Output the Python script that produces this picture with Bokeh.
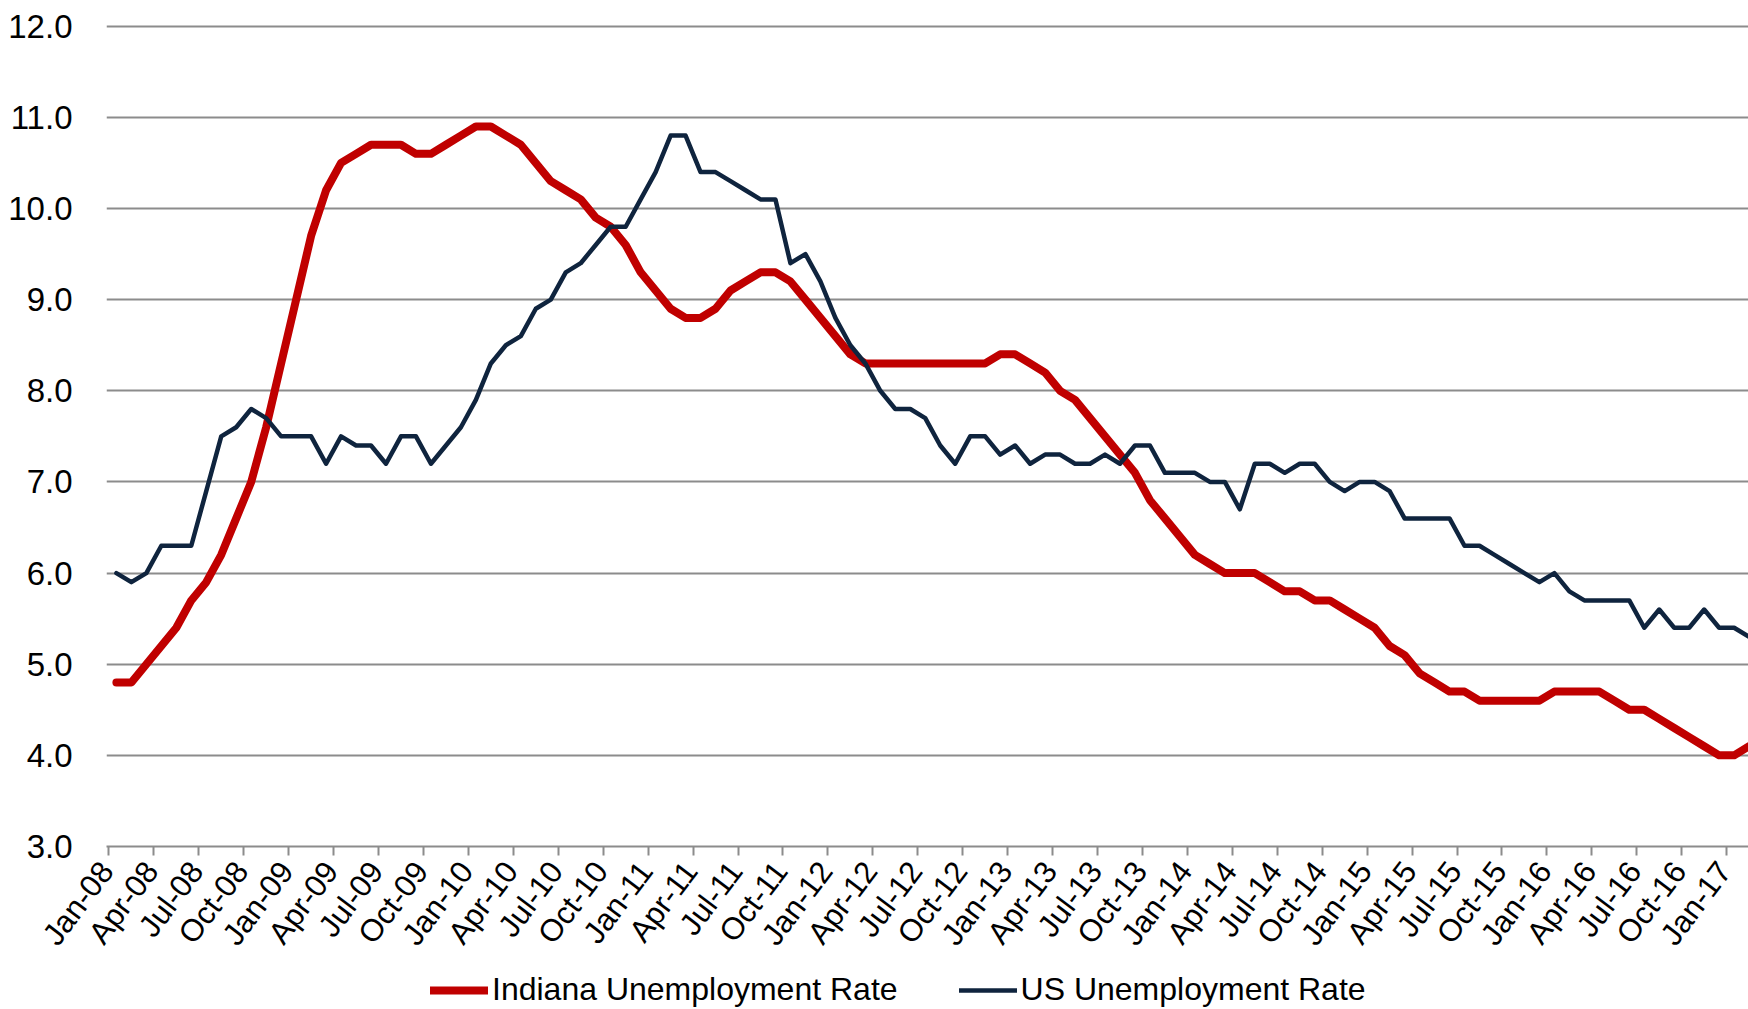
import math
from bokeh.plotting import figure
from bokeh.layouts import column
from bokeh.models import Range1d, FixedTicker, PrintfTickFormatter, Legend, LegendItem
from bokeh.embed import file_html
from bokeh.resources import INLINE

tick_labels = [
    "Jan-08", "Apr-08", "Jul-08", "Oct-08", "Jan-09", "Apr-09", "Jul-09", "Oct-09",
    "Jan-10", "Apr-10", "Jul-10", "Oct-10", "Jan-11", "Apr-11", "Jul-11", "Oct-11",
    "Jan-12", "Apr-12", "Jul-12", "Oct-12", "Jan-13", "Apr-13", "Jul-13", "Oct-13",
    "Jan-14", "Apr-14", "Jul-14", "Oct-14", "Jan-15", "Apr-15", "Jul-15", "Oct-15",
    "Jan-16", "Apr-16", "Jul-16", "Oct-16", "Jan-17",
]

# monthly values, Jan-08 .. Feb-17
indiana = [
    4.8, 4.8, 5.0, 5.2, 5.4, 5.7, 5.9, 6.2, 6.6, 7.0,
    7.6, 8.3, 9.0, 9.7, 10.2, 10.5, 10.6, 10.7, 10.7, 10.7,
    10.6, 10.6, 10.7, 10.8, 10.9, 10.9, 10.8, 10.7, 10.5, 10.3,
    10.2, 10.1, 9.9, 9.8, 9.6, 9.3, 9.1, 8.9, 8.8, 8.8,
    8.9, 9.1, 9.2, 9.3, 9.3, 9.2, 9.0, 8.8, 8.6, 8.4,
    8.3, 8.3, 8.3, 8.3, 8.3, 8.3, 8.3, 8.3, 8.3, 8.4,
    8.4, 8.3, 8.2, 8.0, 7.9, 7.7, 7.5, 7.3, 7.1, 6.8,
    6.6, 6.4, 6.2, 6.1, 6.0, 6.0, 6.0, 5.9, 5.8, 5.8,
    5.7, 5.7, 5.6, 5.5, 5.4, 5.2, 5.1, 4.9, 4.8, 4.7,
    4.7, 4.6, 4.6, 4.6, 4.6, 4.6, 4.7, 4.7, 4.7, 4.7,
    4.6, 4.5, 4.5, 4.4, 4.3, 4.2, 4.1, 4.0, 4.0, 4.1,
]

us = [
    6.0, 5.9, 6.0, 6.3, 6.3, 6.3, 6.9, 7.5, 7.6, 7.8,
    7.7, 7.5, 7.5, 7.5, 7.2, 7.5, 7.4, 7.4, 7.2, 7.5,
    7.5, 7.2, 7.4, 7.6, 7.9, 8.3, 8.5, 8.6, 8.9, 9.0,
    9.3, 9.4, 9.6, 9.8, 9.8, 10.1, 10.4, 10.8, 10.8, 10.4,
    10.4, 10.3, 10.2, 10.1, 10.1, 9.4, 9.5, 9.2, 8.8, 8.5,
    8.3, 8.0, 7.8, 7.8, 7.7, 7.4, 7.2, 7.5, 7.5, 7.3,
    7.4, 7.2, 7.3, 7.3, 7.2, 7.2, 7.3, 7.2, 7.4, 7.4,
    7.1, 7.1, 7.1, 7.0, 7.0, 6.7, 7.2, 7.2, 7.1, 7.2,
    7.2, 7.0, 6.9, 7.0, 7.0, 6.9, 6.6, 6.6, 6.6, 6.6,
    6.3, 6.3, 6.2, 6.1, 6.0, 5.9, 6.0, 5.8, 5.7, 5.7,
    5.7, 5.7, 5.4, 5.6, 5.4, 5.4, 5.6, 5.4, 5.4, 5.3,
]

series_names = ["Indiana Unemployment Rate", "US Unemployment Rate"]
series_colors = ["#C00000", "#0F243E"]
y_ticks = [3, 4, 5, 6, 7, 8, 9, 10, 11, 12]

months = list(range(len(indiana)))
tick_bounds = [3 * i - 0.5 for i in range(len(tick_labels))]
label_pos = [3 * i - 0.65 for i in range(len(tick_labels))]

FONT = "Liberation Sans"
GRID = "#8c8c8c"

p = figure(width=1748, height=965, output_backend="svg", toolbar_location=None,
           x_range=Range1d(-0.66, 108.96), y_range=Range1d(3, 12.03),
           min_border_left=106, min_border_right=0, min_border_top=23,
           min_border_bottom=115)
p.outline_line_color = None
p.background_fill_color = "white"
p.border_fill_color = "white"

# y axis
p.yaxis.ticker = FixedTicker(ticks=y_ticks)
p.yaxis.formatter = PrintfTickFormatter(format="%.1f")
p.yaxis.axis_line_color = None
p.yaxis.major_tick_line_color = None
p.yaxis.minor_tick_line_color = None
p.yaxis.major_tick_out = 0
p.yaxis.major_tick_in = 0
p.yaxis.major_label_standoff = 34
p.yaxis.major_label_text_font = FONT
p.yaxis.major_label_text_font_size = "33px"
p.yaxis.major_label_text_color = "black"

p.ygrid.ticker = FixedTicker(ticks=y_ticks[1:])
p.ygrid.grid_line_color = GRID
p.ygrid.grid_line_width = 2
p.xgrid.visible = False

# x axis: tick marks at category boundaries, labels near category centres
p.xaxis.ticker = FixedTicker(ticks=label_pos, minor_ticks=tick_bounds)
p.xaxis.major_label_overrides = {t: lab for t, lab in zip(label_pos, tick_labels)}
p.xaxis.major_tick_line_color = None
p.xaxis.major_tick_out = 0
p.xaxis.major_tick_in = 0
p.xaxis.minor_tick_line_color = GRID
p.xaxis.minor_tick_line_width = 2
p.xaxis.minor_tick_out = 9
p.xaxis.minor_tick_in = 0
p.xaxis.axis_line_color = GRID
p.xaxis.axis_line_width = 2
p.xaxis.major_label_orientation = 0.925
p.xaxis.major_label_standoff = 10
p.xaxis.major_label_text_font = FONT
p.xaxis.major_label_text_font_size = "31px"
p.xaxis.major_label_text_color = "black"

r1 = p.line(months, indiana, line_color=series_colors[0], line_width=8,
            line_join="round", line_cap="round")
r2 = p.line(months, us, line_color=series_colors[1], line_width=4.5,
            line_join="round", line_cap="round")

# legend strip below the chart (its renderers sit outside the visible range)
q = figure(width=1748, height=44, output_backend="svg", toolbar_location=None,
           x_axis_type=None, y_axis_type=None,
           x_range=Range1d(0, 1), y_range=Range1d(0, 1),
           min_border_left=0, min_border_right=0, min_border_top=0, min_border_bottom=0)
q.outline_line_color = None
q.grid.visible = False
q.background_fill_color = "white"
q.border_fill_color = "white"
l1 = q.line([-5, -4], [-5, -5], line_color=series_colors[0], line_width=8, line_cap="round")
l2 = q.line([-5, -4], [-5, -5], line_color=series_colors[1], line_width=4.5, line_cap="round")

legend = Legend(items=[LegendItem(label=series_names[0], renderers=[l1]),
                       LegendItem(label=series_names[1], renderers=[l2])],
                orientation="horizontal", location=(324, 1),
                glyph_width=58, glyph_height=20, label_standoff=4, spacing=61,
                padding=0, margin=0, border_line_color=None,
                background_fill_alpha=0,
                label_text_font=FONT, label_text_font_size="32px",
                label_text_color="black")
q.add_layout(legend, "center")

layout = column(p, q, spacing=0)
open("out.html", "w").write(file_html(layout, INLINE))
